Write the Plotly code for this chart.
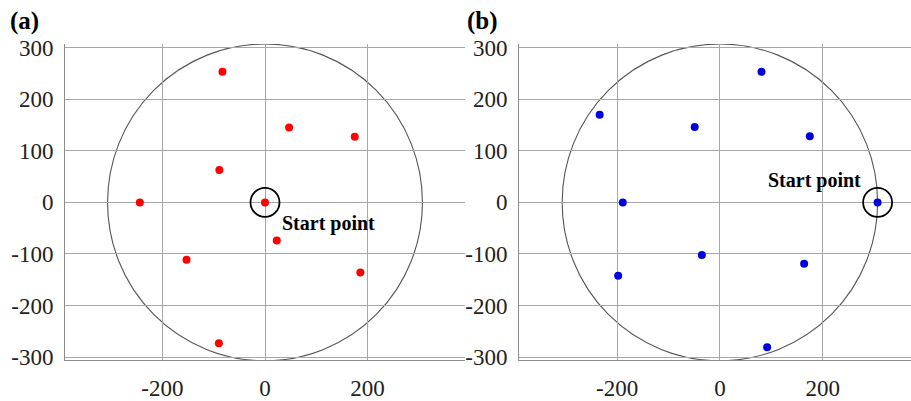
import plotly.graph_objects as go

# Panel (a): waypoints, start at the centre
a_x = [0, -83, 47, 175, -89, -244, 23, -153, 186, -90]
a_y = [0, 253, 145, 127, 63, 0, -74, -111, -136, -273]

# Panel (b): waypoints, start on the boundary
b_x = [307, 81, -49, 175, -234, -189, -35, -198, 164, 92]
b_y = [0, 253, 146, 128, 170, 0, -102, -142, -119, -281]

# Start points
start_a = (0, 0)
start_b = (307, 0)

radius = 307

x_ticks = [-200, 0, 200]
x_labels = ["-200", "0", "200"]
y_ticks = [-300, -200, -100, 0, 100, 200, 300]
y_labels = ["-300", "-200", "-100", "0", "100", "200", "300"]

W, H = 911, 401
FONT = "Liberation Serif, Times New Roman, serif"
GRID = "#a8a8a8"
AXIS = "#8c8c8c"

fig = go.Figure()

# waypoint markers
fig.add_trace(go.Scatter(x=a_x, y=a_y, mode="markers", xaxis="x", yaxis="y",
                         marker=dict(color="#ff0000", size=8), showlegend=False))
fig.add_trace(go.Scatter(x=b_x, y=b_y, mode="markers", xaxis="x2", yaxis="y2",
                         marker=dict(color="#0000dd", size=8), showlegend=False))

# rings around the start points
fig.add_trace(go.Scatter(x=[start_a[0]], y=[start_a[1]], mode="markers", xaxis="x", yaxis="y",
                         marker=dict(symbol="circle-open", size=29, color="black",
                                     line=dict(width=1.8, color="black")), showlegend=False))
fig.add_trace(go.Scatter(x=[start_b[0]], y=[start_b[1]], mode="markers", xaxis="x2", yaxis="y2",
                         marker=dict(symbol="circle-open", size=29, color="black",
                                     line=dict(width=1.8, color="black")), showlegend=False))

# boundary circles
for xr, yr in (("x", "y"), ("x2", "y2")):
    fig.add_shape(type="circle", xref=xr, yref=yr,
                  x0=-radius, x1=radius, y0=-radius, y1=radius,
                  line=dict(color="#555555", width=1.1), layer="below")

ydom = [1 - 360 / H, 1 - 44 / H]

axis_common = dict(
    showgrid=True, gridcolor=GRID, gridwidth=1, automargin=False,
    zeroline=False, showline=True, linecolor=AXIS, linewidth=1,
    ticks="", tickfont=dict(family=FONT, size=23, color="#222222"),
    fixedrange=True,
)

fig.update_layout(
    template="none",
    width=W, height=H,
    margin=dict(l=0, r=0, t=0, b=0, autoexpand=False),
    paper_bgcolor="white", plot_bgcolor="white",
    xaxis=dict(domain=[65 / W, 465 / W], range=[-390, 390], anchor="y",
               tickvals=x_ticks, ticktext=x_labels, ticklabelstandoff=7,
               **axis_common),
    yaxis=dict(domain=ydom, range=[-305.5, 307], anchor="x",
               tickvals=y_ticks, ticktext=y_labels, ticklabelstandoff=6,
               **axis_common),
    xaxis2=dict(domain=[519 / W, 1.0], range=[-391, 372], anchor="y2",
                tickvals=x_ticks, ticktext=x_labels, ticklabelstandoff=7,
                **axis_common),
    yaxis2=dict(domain=ydom, range=[-305.5, 307], anchor="x2",
                tickvals=y_ticks, ticktext=y_labels, ticklabelstandoff=6,
                **axis_common),
    annotations=[
        dict(text="<b>(a)</b>", x=8 / W, y=1 - 21 / H, xref="paper", yref="paper",
             xanchor="left", yanchor="middle", showarrow=False,
             font=dict(family=FONT, size=25, color="black")),
        dict(text="<b>(b)</b>", x=465 / W, y=1 - 21 / H, xref="paper", yref="paper",
             xanchor="left", yanchor="middle", showarrow=False,
             font=dict(family=FONT, size=25, color="black")),
        dict(text="<b>Start point</b>", x=29, y=-40, xref="x", yref="y",
             xanchor="left", yanchor="middle", showarrow=False,
             font=dict(family=FONT, size=20, color="black")),
        dict(text="<b>Start point</b>", x=89, y=43, xref="x2", yref="y2",
             xanchor="left", yanchor="middle", showarrow=False,
             font=dict(family=FONT, size=20, color="black")),
    ],
)

fig.write_html("out.html")
